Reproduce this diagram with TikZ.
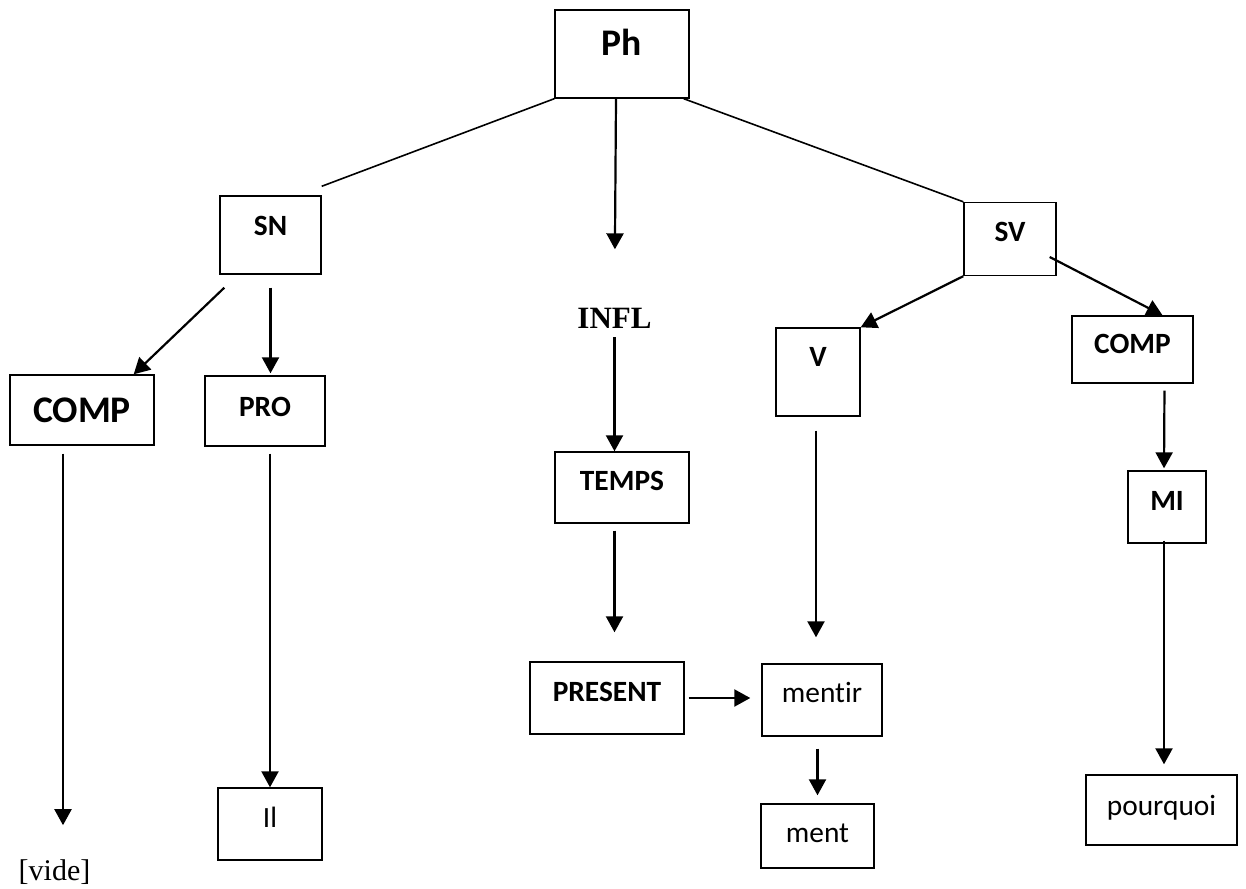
\documentclass[tikz,border=0pt]{standalone}
\usepackage{fontspec}
\setmainfont{Carlito}[Ligatures=CommonOff]
\newfontfamily\timesfont{Liberation Serif}
\usetikzlibrary{arrows.meta}

\tikzset{
  box/.style={draw, line width=0.7pt, inner sep=0pt, font=\fontsize{14.7}{17}\selectfont, text height=9.4pt, text depth=#1},
  box/.default=6pt,
  bbox/.style={box=#1, font=\bfseries\fontsize{14.7}{17}\selectfont},
  bbox/.default=6pt,
  bigbox/.style={box=#1, font=\bfseries\fontsize{18.8}{22}\selectfont, text height=12.1pt},
  arr/.style={-{Triangle[length=8pt,width=8.5pt]}, line width=1.1pt},
  link/.style={line width=0.8pt}
}

\begin{document}
\begin{tikzpicture}[x=0.5pt,y=-0.5pt]
\useasboundingbox (0,0) rectangle (1246,888);
\node[bigbox=10.5pt, minimum width=67pt, minimum height=44pt] (ph) at (622,54) {Ph};
\node[bbox=9pt, minimum width=50.5pt, minimum height=39pt] (sn) at (270.5,235) {SN};
\node[bbox=7pt, minimum width=46pt, minimum height=36.5pt] (sv) at (1010,239) {SV};
\node[font=\timesfont\bfseries\fontsize{15.5}{18}\selectfont, inner sep=0pt, anchor=base] (infl) at (614.5,328) {INFL};
\node[bigbox=0pt, minimum width=72pt, minimum height=35pt] (compl) at (82,410) {COMP};
\node[bbox=4pt, minimum width=60pt, minimum height=35pt] (pro) at (265,411) {PRO};
\node[bbox=14.5pt, minimum width=42pt, minimum height=44pt] (v) at (818,372) {V};
\node[bbox=5.5pt, minimum width=60.5pt, minimum height=33.5pt] (compr) at (1132.5,349.5) {COMP};
\node[bbox=6.5pt, minimum width=67pt, minimum height=35.5pt] (temps) at (622,487.5) {TEMPS};
\node[bbox=6pt, minimum width=39pt, minimum height=36pt] (mi) at (1167,507) {MI};
\node[bbox=6pt, minimum width=77pt, minimum height=36pt] (present) at (607,698) {PRESENT};
\node[box=7.4pt, minimum width=60pt, minimum height=36pt] (mentir) at (822,700) {mentir};
\node[box=3.4pt, minimum width=56.5pt, minimum height=32pt] (ment) at (817.5,836) {ment};
\node[box=4.4pt, minimum width=75.5pt, minimum height=35pt] (pourquoi) at (1161.5,810) {pourquoi};
\node[box=6pt, minimum width=52pt, minimum height=36pt] (il) at (270,824) {Il};
\node[font=\timesfont\fontsize{15}{18}\selectfont, inner sep=0pt, anchor=base] (vide) at (54.5,880) {[vide]};
\draw[link] (ph.south west) -- ([yshift=4.5pt]sn.north east);
\draw[link] ([xshift=-3pt]ph.south east) -- (sv.north west);
\draw[arr, shorten >=29pt] ([xshift=-3pt]ph.south) -- (infl.north);
\draw[arr, shorten <=4.5pt] (infl.south) -- (infl.south |- temps.north);
\draw[arr, shorten <=3.5pt, shorten >=14.5pt] (infl.south |- temps.south) -- (infl.south |- present.north);
\draw[arr, shorten <=2pt, shorten >=5.5pt] (present.east) -- (present.east -| mentir.west);
\draw[arr, shorten <=7pt, shorten >=13pt] ([xshift=-1pt]v.south) -- ([xshift=-3pt]mentir.north);
\draw[arr, shorten <=6pt, shorten >=4pt] (ment.north |- mentir.south) -- (ment.north);
\draw[arr] ([shift={(2.5pt,-6.5pt)}]sn.south west) -- ([xshift=-10.5pt]compl.north east);
\draw[arr, shorten <=6.5pt, shorten >=1pt] (sn.south) -- (sn.south |- pro.north);
\draw[arr, shorten <=4pt, shorten >=16.8pt] ([xshift=-9.5pt]compl.south) -- ([xshift=4.25pt]vide.north);
\draw[arr, shorten <=3.5pt] (il.north |- pro.south) -- (il.north);
\draw[arr] (sv.south west) -- (v.north east);
\draw[arr] ([shift={(-3.5pt,-9pt)}]sv.east) -- ([xshift=15pt]compr.north);
\draw[arr, shorten <=3.5pt, shorten >=1pt] ([xshift=16pt]compr.south) -- ([xshift=-1.5pt]mi.north);
\draw[arr, shorten <=-1.5pt, shorten >=5pt] ([xshift=-1.5pt]mi.south) -- ([xshift=1.25pt]pourquoi.north);
\end{tikzpicture}
\end{document}
